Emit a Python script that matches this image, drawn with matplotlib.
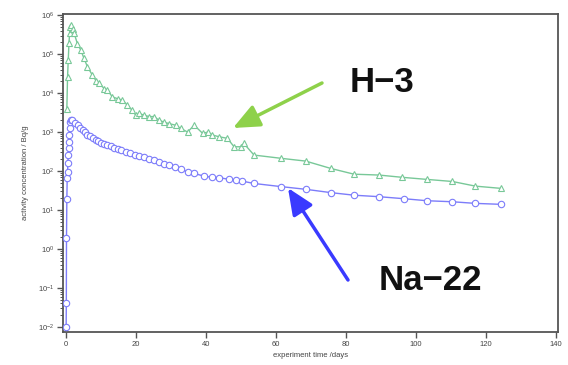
import matplotlib
matplotlib.use("Agg")
import matplotlib.pyplot as plt
from matplotlib.ticker import LogLocator, NullFormatter, FixedLocator

# ---------------- data ----------------
na22_days = [0.0, 0.05, 0.1, 0.2, 0.3, 0.4, 0.5, 0.6, 0.7, 0.8, 0.9, 1.0, 1.2, 1.5, 1.8,
             2.6, 3.3, 4.0, 4.7, 5.4, 6.1, 6.8, 7.6, 8.4, 9.2, 10.0, 10.9, 11.8, 12.7,
             13.7, 14.7, 15.8, 17.0, 18.3, 19.6, 20.9, 22.2, 23.6, 25.0, 26.5, 28.0,
             29.5, 31.0, 32.8, 34.7, 36.6, 39.4, 41.8, 43.7, 46.6, 48.5, 50.4, 53.7,
             61.3, 68.5, 75.6, 82.3, 89.4, 96.6, 103.2, 110.4, 117.0, 124.2]
na22_vals = [0.01, 0.04, 1.9, 19, 66, 94, 160, 257, 390, 550, 830, 1260, 1800, 2100, 2050,
             1750, 1500, 1300, 1120, 980, 860, 780, 700, 640, 590, 540, 500, 460, 430,
             400, 370, 340, 310, 285, 265, 245, 225, 205, 190, 170, 155,
             140, 125, 110, 96, 87, 74, 69, 68, 61, 58, 55, 48,
             40, 34, 28, 24, 22, 19.5, 17.3, 16.3, 14.8, 14]

h3_days = [0.2, 0.4, 0.6, 0.8, 1.0, 1.2, 1.5, 1.9, 2.3, 3.2, 4.2, 5.1, 6.1, 7.5, 8.5,
           9.4, 10.9, 11.8, 13.2, 14.7, 16.1, 17.5, 18.9, 19.9, 20.9, 22.3, 23.7, 25.1,
           26.6, 28.0, 29.4, 31.3, 32.8, 34.7, 36.6, 39.0, 40.5, 41.8, 43.7, 46.1, 48.0,
           49.9, 50.8, 53.7, 61.3, 68.5, 75.6, 82.3, 89.4, 96.1, 103.2, 110.4, 117.0, 124.2]
h3_vals = [4000, 26000, 70000, 190000, 350000, 500000, 560000, 450000, 340000, 187000,
           126000, 78000, 47000, 29000, 21000, 18000, 13000, 12000, 8000, 7200, 6600,
           4900, 3600, 2700, 3000, 2700, 2500, 2500, 2000, 1800, 1650, 1500, 1240, 1000,
           1500, 930, 1000, 840, 760, 690, 420, 420, 510, 257, 213, 180, 117, 83, 79, 69,
           61, 54, 41, 36]

x_ticks = [0, 20, 40, 60, 80, 100, 120, 140]
y_ticks = [1e-2, 1e-1, 1e0, 1e1, 1e2, 1e3, 1e4, 1e5, 1e6]
x_label = "experiment time /days"
y_label = "activity concentration / Bq/g"
label_h3 = "H\u22123"
label_na = "Na\u221222"

# ---------------- style ----------------
plt.rcParams['font.family'] = ['Liberation Sans', 'DejaVu Sans']
plt.rcParams['mathtext.default'] = 'regular'

W, H = 568, 365
fig = plt.figure(figsize=(W / 100, H / 100), dpi=100)
L, R, T, B = 63, 558, 14, 332
ax = fig.add_axes([L / W, 1 - B / H, (R - L) / W, (B - T) / H])

green = '#78c898'
blue = '#7c7cfa'

ax.plot(h3_days, h3_vals, color=green, lw=1.0, marker='^', ms=4.6,
        mfc='white', mec=green, mew=0.8, zorder=3)
ax.plot(na22_days, na22_vals, color=blue, lw=1.0, marker='o', ms=4.6,
        mfc='white', mec=blue, mew=0.8, zorder=4)

ax.set_yscale('log')
ax.set_xlim(-0.9, 140.6)
ax.set_ylim(10 ** -2.13, 10 ** 6.03)
ax.set_xticks(x_ticks)
ax.xaxis.set_minor_locator(plt.NullLocator())
ax.yaxis.set_major_locator(FixedLocator(y_ticks))
minor = [m * t for t in y_ticks[:-1] for m in range(2, 10)]
ax.yaxis.set_minor_locator(FixedLocator(minor))
ax.yaxis.set_minor_formatter(NullFormatter())

spc = '#555555'
for s in ax.spines.values():
    s.set_color(spc)
    s.set_linewidth(1.3)

ax.tick_params(axis='both', which='major', direction='out', length=4, width=1.0,
               color=spc, labelsize=5.5, labelcolor='#444444', pad=2.5)
ax.tick_params(axis='y', which='minor', direction='out', length=2.2, width=0.7, color=spc)
ax.tick_params(top=False, right=False)

ax.set_xlabel(x_label, fontsize=5.5, color='#444444', labelpad=3)
ax.set_ylabel(y_label, fontsize=5.5, color='#444444', labelpad=6)


def fp(x, y):
    return (x / W, 1 - y / H)


# annotations
ax.annotate('', xy=fp(233, 128), xytext=fp(322, 83), xycoords='figure fraction',
            textcoords='figure fraction',
            arrowprops=dict(arrowstyle='-|>,head_length=0.8,head_width=0.35',
                            mutation_scale=20, lw=2.5, color='#8ed14a',
                            shrinkA=0, shrinkB=0))
ax.annotate('', xy=fp(288, 188), xytext=fp(348, 280), xycoords='figure fraction',
            textcoords='figure fraction',
            arrowprops=dict(arrowstyle='-|>,head_length=0.8,head_width=0.35',
                            mutation_scale=20, lw=2.5, color='#3a3aff',
                            shrinkA=0, shrinkB=0))
fig.text(*fp(382, 83), label_h3, fontsize=25, fontweight='bold',
         ha='center', va='center', color='#111111')
fig.text(*fp(430, 280), label_na, fontsize=25, fontweight='bold',
         ha='center', va='center', color='#111111')

fig.savefig('out.png', dpi=100)
